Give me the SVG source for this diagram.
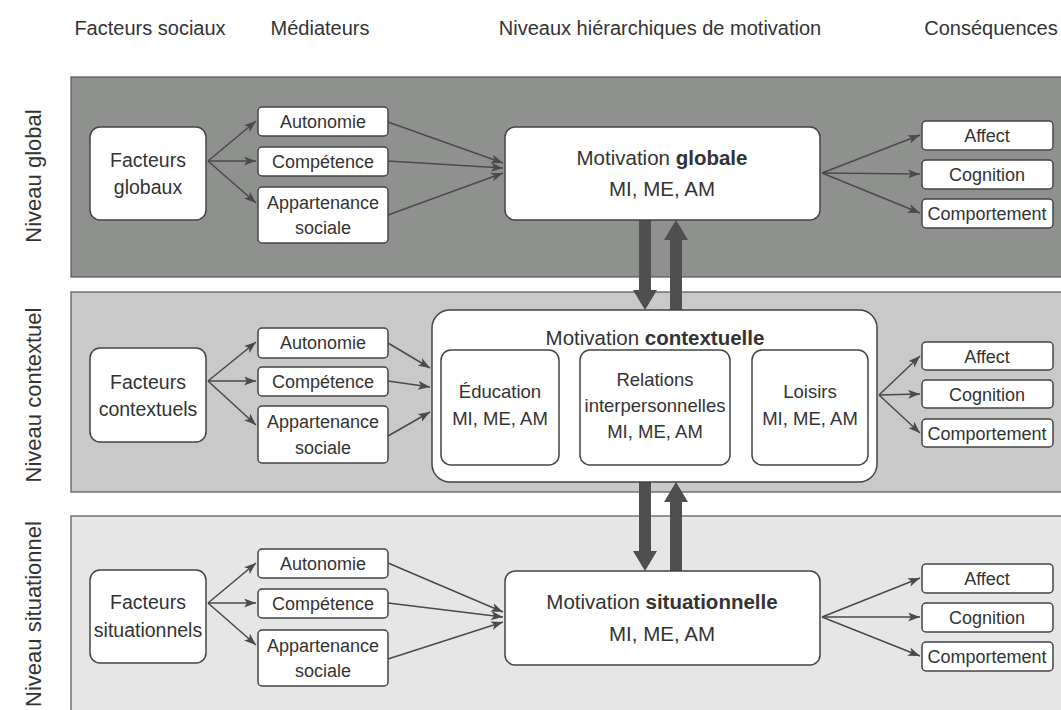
<svg xmlns="http://www.w3.org/2000/svg" width="1061" height="710" viewBox="0 0 1061 710">
<style>
text{font-family:"Liberation Sans",Arial,sans-serif;fill:#333;text-anchor:middle}
.hd{font-size:20px}
.vl{font-size:22px}
.bx{fill:#fff;stroke:#444;stroke-width:1.5}
.t19{font-size:19.5px}
.t18{font-size:18px}
.t20{font-size:20.5px}
.in{font-size:18.5px}
.ln{stroke:#4a4a4a;stroke-width:1.5;fill:none;marker-end:url(#ah)}
.dl{stroke:#4a4a4a;stroke-width:1.5;fill:none;marker-end:url(#sh);marker-start:url(#shs)}
.big{fill:#4f4f4f}
.band{stroke:#555;stroke-width:1.2}
</style>
<defs>
<marker id="ah" markerUnits="userSpaceOnUse" markerWidth="12" markerHeight="9" refX="12" refY="4.5" orient="auto"><path d="M0,0 L12,4.5 L0,9 L3,4.5 z" fill="#4a4a4a"/></marker>
<marker id="sh" markerUnits="userSpaceOnUse" markerWidth="6" markerHeight="8" refX="6" refY="4" orient="auto"><path d="M0,0 L6,4 L0,8" fill="none" stroke="#4a4a4a" stroke-width="1.5"/></marker>
<marker id="shs" markerUnits="userSpaceOnUse" markerWidth="6" markerHeight="8" refX="0" refY="4" orient="auto"><path d="M6,0 L0,4 L6,8" fill="none" stroke="#4a4a4a" stroke-width="1.5"/></marker>
</defs>
<rect width="1061" height="710" fill="#fff"/>
<g id="headers">
<text class="hd" x="150" y="35">Facteurs sociaux</text>
<text class="hd" x="320" y="35">Médiateurs</text>
<text class="hd" x="660" y="35">Niveaux hiérarchiques de motivation</text>
<text class="hd" x="991" y="35">Conséquences</text>
</g>
<g id="bands">
<rect class="band" x="71" y="77" width="1000" height="200" fill="#8f918f"/>
<rect class="band" x="71" y="292" width="1000" height="200" fill="#c9c9c9"/>
<rect class="band" x="71" y="516" width="1000" height="200" fill="#e6e6e6"/>
<text class="vl" transform="translate(41,176) rotate(-90)">Niveau global</text>
<text class="vl" transform="translate(41,395) rotate(-90)">Niveau contextuel</text>
<text class="vl" transform="translate(41,614) rotate(-90)">Niveau situationnel</text>
</g>
<g id="connectors">
<line class="ln" x1="208" y1="161" x2="256" y2="121"/>
<line class="ln" x1="208" y1="161" x2="256" y2="161"/>
<line class="ln" x1="208" y1="161" x2="256" y2="203"/>
<line class="ln" x1="388" y1="122" x2="503" y2="163"/>
<line class="ln" x1="388" y1="161" x2="503" y2="168"/>
<line class="ln" x1="388" y1="215" x2="503" y2="173"/>
<line class="ln" x1="822" y1="173" x2="920" y2="135"/>
<line class="ln" x1="822" y1="173" x2="920" y2="174"/>
<line class="ln" x1="822" y1="173" x2="920" y2="213"/>
<line class="ln" x1="208" y1="381" x2="256" y2="342"/>
<line class="ln" x1="208" y1="381" x2="256" y2="381"/>
<line class="ln" x1="208" y1="381" x2="256" y2="425"/>
<line class="ln" x1="388" y1="343" x2="430" y2="368"/>
<line class="ln" x1="388" y1="381" x2="430" y2="387"/>
<line class="ln" x1="388" y1="436" x2="430" y2="412"/>
<line class="ln" x1="879" y1="395" x2="920" y2="356"/>
<line class="ln" x1="879" y1="395" x2="920" y2="394"/>
<line class="ln" x1="879" y1="395" x2="920" y2="433"/>
<line class="ln" x1="208" y1="603" x2="256" y2="563"/>
<line class="ln" x1="208" y1="603" x2="256" y2="603"/>
<line class="ln" x1="208" y1="603" x2="256" y2="645"/>
<line class="ln" x1="388" y1="563" x2="503" y2="612"/>
<line class="ln" x1="388" y1="603" x2="503" y2="617"/>
<line class="ln" x1="388" y1="659" x2="503" y2="622"/>
<line class="ln" x1="822" y1="617" x2="920" y2="578"/>
<line class="ln" x1="822" y1="617" x2="920" y2="617"/>
<line class="ln" x1="822" y1="617" x2="920" y2="656"/>
<line class="dl" x1="561" y1="423" x2="578" y2="423"/>
<line class="dl" x1="733" y1="423" x2="750" y2="423"/>
<polygon class="big" points="639,220 651,220 651,290 657,290 645,310 633,290 639,290"/>
<polygon class="big" points="670,310 682,310 682,240 688,240 676,220 664,240 670,240"/>
<polygon class="big" points="639,482 651,482 651,551 657,551 645,571 633,551 639,551"/>
<polygon class="big" points="670,571 682,571 682,502 688,502 676,482 664,502 670,502"/>
</g>
<g id="facteurs-globaux"><rect class="bx" x="90" y="127" width="116" height="93" rx="10"/><text class="t19" x="148" y="167">Facteurs</text><text class="t19" x="148" y="194">globaux</text></g>
<g id="autonomie-1"><rect class="bx" x="258" y="107" width="130" height="29" rx="4"/><text class="t18" x="323" y="128">Autonomie</text></g>
<g id="competence-1"><rect class="bx" x="258" y="147" width="130" height="29" rx="4"/><text class="t18" x="323" y="168">Compétence</text></g>
<g id="appartenance-1"><rect class="bx" x="258" y="187" width="130" height="56" rx="4"/><text class="t18" x="323" y="209">Appartenance</text><text class="t18" x="323" y="234">sociale</text></g>
<g id="motivation-globale"><rect class="bx" x="505" y="127" width="315" height="93" rx="10"/><text class="t20" x="662" y="165">Motivation <tspan font-weight="bold">globale</tspan></text><text class="t20" x="662" y="196">MI, ME, AM</text></g>
<g id="affect-1"><rect class="bx" x="922" y="121" width="131" height="29" rx="4"/><text class="t18" x="987" y="142">Affect</text></g>
<g id="cognition-1"><rect class="bx" x="922" y="160" width="131" height="29" rx="4"/><text class="t18" x="987" y="181">Cognition</text></g>
<g id="comportement-1"><rect class="bx" x="922" y="199" width="131" height="29" rx="4"/><text class="t18" x="987" y="220">Comportement</text></g>
<g id="facteurs-contextuels"><rect class="bx" x="90" y="348" width="116" height="94" rx="10"/><text class="t19" x="148" y="389">Facteurs</text><text class="t19" x="148" y="416">contextuels</text></g>
<g id="autonomie-2"><rect class="bx" x="258" y="328" width="130" height="30" rx="4"/><text class="t18" x="323" y="349">Autonomie</text></g>
<g id="competence-2"><rect class="bx" x="258" y="367" width="130" height="29" rx="4"/><text class="t18" x="323" y="388">Compétence</text></g>
<g id="appartenance-2"><rect class="bx" x="258" y="406" width="130" height="57" rx="4"/><text class="t18" x="323" y="428">Appartenance</text><text class="t18" x="323" y="454">sociale</text></g>
<g id="motivation-contextuelle"><rect class="bx" x="432" y="310" width="445" height="172" rx="18"/><text class="t20" x="655" y="345">Motivation <tspan font-weight="bold">contextuelle</tspan></text>
<g id="education"><rect class="bx" x="441" y="350" width="118" height="115" rx="10"/><text class="in" x="500" y="398">Éducation</text><text class="in" x="500" y="425">MI, ME, AM</text></g>
<g id="relations"><rect class="bx" x="580" y="350" width="150" height="115" rx="10"/><text class="in" x="655" y="386">Relations</text><text class="in" x="655" y="412">interpersonnelles</text><text class="in" x="655" y="438">MI, ME, AM</text></g>
<g id="loisirs"><rect class="bx" x="752" y="350" width="116" height="115" rx="10"/><text class="in" x="810" y="398">Loisirs</text><text class="in" x="810" y="425">MI, ME, AM</text></g>
</g>
<g id="affect-2"><rect class="bx" x="922" y="342" width="131" height="28" rx="4"/><text class="t18" x="987" y="363">Affect</text></g>
<g id="cognition-2"><rect class="bx" x="922" y="380" width="131" height="28" rx="4"/><text class="t18" x="987" y="401">Cognition</text></g>
<g id="comportement-2"><rect class="bx" x="922" y="419" width="131" height="28" rx="4"/><text class="t18" x="987" y="440">Comportement</text></g>
<g id="facteurs-situationnels"><rect class="bx" x="90" y="570" width="116" height="93" rx="10"/><text class="t19" x="148" y="609">Facteurs</text><text class="t19" x="148" y="637">situationnels</text></g>
<g id="autonomie-3"><rect class="bx" x="258" y="549" width="130" height="29" rx="4"/><text class="t18" x="323" y="570">Autonomie</text></g>
<g id="competence-3"><rect class="bx" x="258" y="589" width="130" height="29" rx="4"/><text class="t18" x="323" y="610">Compétence</text></g>
<g id="appartenance-3"><rect class="bx" x="258" y="630" width="130" height="56" rx="4"/><text class="t18" x="323" y="652">Appartenance</text><text class="t18" x="323" y="677">sociale</text></g>
<g id="motivation-situationnelle"><rect class="bx" x="505" y="571" width="315" height="94" rx="10"/><text class="t20" x="662" y="609">Motivation <tspan font-weight="bold">situationnelle</tspan></text><text class="t20" x="662" y="641">MI, ME, AM</text></g>
<g id="affect-3"><rect class="bx" x="922" y="564" width="131" height="29" rx="4"/><text class="t18" x="987" y="585">Affect</text></g>
<g id="cognition-3"><rect class="bx" x="922" y="603" width="131" height="29" rx="4"/><text class="t18" x="987" y="624">Cognition</text></g>
<g id="comportement-3"><rect class="bx" x="922" y="642" width="131" height="29" rx="4"/><text class="t18" x="987" y="663">Comportement</text></g>
</svg>
